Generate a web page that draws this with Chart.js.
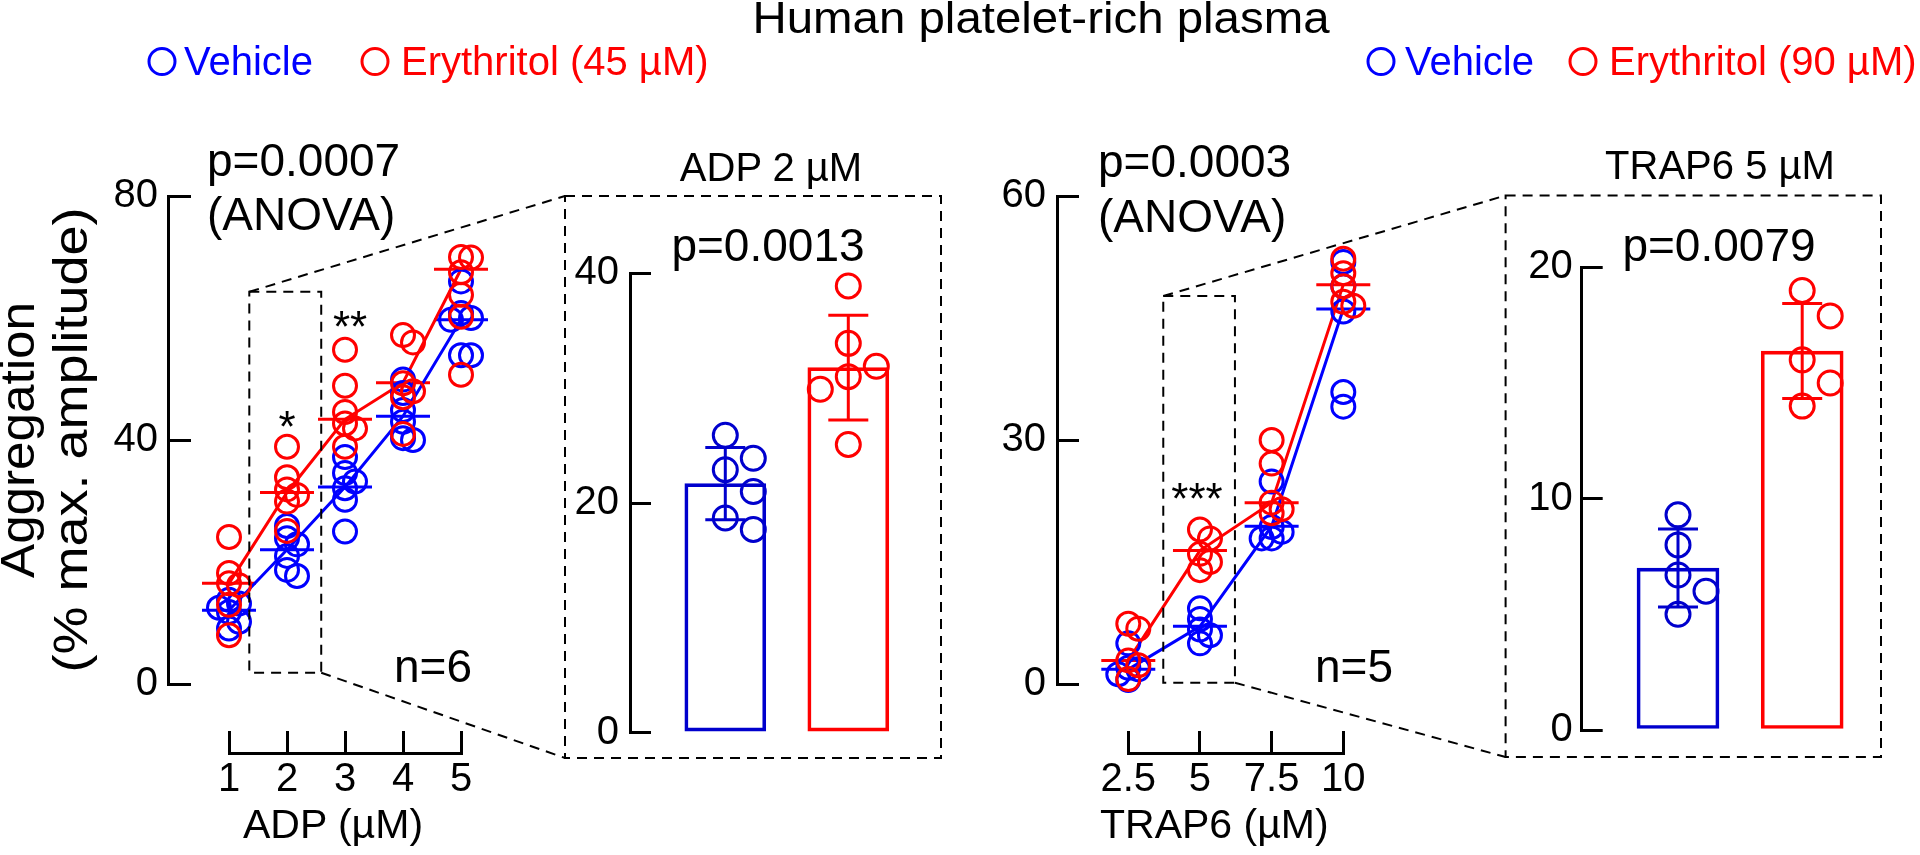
<!DOCTYPE html>
<html><head><meta charset="utf-8">
<script src="https://cdn.jsdelivr.net/npm/chart.js@4.4.1/dist/chart.umd.min.js"></script>
<style>
html,body{margin:0;padding:0;background:#fff;}
#wrap{position:relative;width:1920px;height:855px;overflow:hidden;background:#fff;}
canvas{position:absolute;left:0;top:0;}
svg{position:absolute;left:0;top:0;}
</style></head><body>
<div id="wrap">
<canvas id="c1" width="1920" height="855"></canvas>
<canvas id="c1x" width="1920" height="855"></canvas>
<canvas id="c2" width="1920" height="855"></canvas>
<canvas id="c3" width="1920" height="855"></canvas>
<canvas id="c3x" width="1920" height="855"></canvas>
<canvas id="c4" width="1920" height="855"></canvas>
<svg id="ov" width="1920" height="855" xmlns="http://www.w3.org/2000/svg"></svg>
</div>
<script>
// ---------------- DATA ----------------
const adpDoses = [1, 2, 3, 4, 5];
const adpVehicle2 = [25.9, 23.9, 22.9, 21.0, 18.7, 17.7];
const adpErythritol2 = [38.9, 33.9, 31.9, 31.0, 29.9, 25.1];
const adpVehiclePoints = [
  [13.8, 13.2, 12.5, 11.8, 10.2, 9.1],
  adpVehicle2,
  [37.2, 34.6, 33.2, 32.1, 30.2, 25.0],
  [49.9, 47.7, 44.9, 43.0, 40.3, 40.0],
  [66.0, 60.8, 60.0, 59.7, 53.9, 53.9]
];
const adpErythritolPoints = [
  [24.1, 18.2, 16.5, 16.2, 13.0, 8.0],
  adpErythritol2,
  [54.8, 48.9, 44.6, 42.7, 41.9, 38.9],
  [57.2, 56.0, 49.3, 48.0, 47.0, 41.0],
  [70.0, 69.9, 67.5, 63.8, 60.2, 50.7]
];
const adpVehicleMedian = [12.1, 22.0, 32.3, 43.9, 59.7];
const adpErythritolMedian = [16.5, 31.4, 43.4, 49.4, 68.0];

const trapDoses = [2.5, 5, 7.5, 10];
const trapVehicle5 = [9.3, 8.0, 6.7, 6.0, 5.0];
const trapErythritol5 = [19.0, 17.9, 16.0, 15.0, 14.0];
const trapVehiclePoints = [
  [5.0, 2.0, 1.8, 1.2, 0.5],
  trapVehicle5,
  [24.9, 19.3, 18.7, 17.9, 17.9],
  [51.9, 48.9, 45.8, 35.9, 34.1]
];
const trapErythritolPoints = [
  [7.4, 6.8, 2.9, 2.3, 0.6],
  trapErythritol5,
  [30.0, 27.1, 22.3, 21.5, 21.0],
  [52.3, 50.5, 48.9, 47.0, 46.5]
];
const trapVehicleMedian = [1.8, 7.1, 19.4, 46.1];
const trapErythritolMedian = [2.9, 16.4, 22.3, 49.1];

const adpYTicks = [0, 40, 80];
const trapYTicks = [0, 30, 60];
const adpBarYTicks = [0, 20, 40];
const trapBarYTicks = [0, 10, 20];
const adpXTickLabels = ['1', '2', '3', '4', '5'];
const trapXTickLabels = ['2.5', '5', '7.5', '10'];

// ---------------- STYLE / LAYOUT ----------------
const FONT = "'Liberation Sans', Arial, Helvetica, sans-serif";
const BLUE = '#0000FF', BLUE_BAR = '#0000CD', RED = '#FF0000';
const TICK_FONT = 40;
Chart.defaults.font.family = FONT;
Chart.defaults.color = '#000';
Chart.defaults.animation = false;

const P1 = {left:168, right:520, top:196, bottom:684};
const P1X = {left:229, right:461, top:700, bottom:753};
const P2 = {left:630, right:945, top:273.3, bottom:732.7};
const P3 = {left:1057, right:1420, top:196, bottom:684};
const P3X = {left:1128.3, right:1343.3, top:700, bottom:753};
const P4 = {left:1581.7, right:1885, top:267.3, bottom:730};
const YAXW = 100, XAXH = 100;

function xRange(area, v0, p0, v1, p1) {
  const k = (p1 - p0) / (v1 - v0);
  return {min: v0 - (p0 - area.left) / k, max: v0 + (area.right - p0) / k, k};
}
function pad(area, lw, bh) {
  return {left: area.left - lw, right: 1920 - area.right, top: area.top, bottom: 855 - area.bottom - bh};
}
function yAxis(min, max, ticks, tickLen, gap) {
  return {
    type:'linear', position:'left', min, max,
    afterFit: s => { s.width = YAXW; },
    afterBuildTicks: s => { s.ticks = ticks.map(v => ({value:v})); },
    border:{display:true, color:'#000', width:3},
    grid:{display:true, drawOnChartArea:false, drawTicks:true, tickLength:-tickLen, tickWidth:3, tickColor:'#000', color:'#000', lineWidth:3},
    ticks:{padding:tickLen + gap, color:'#000', font:{size:TICK_FONT}, autoSkip:false, callback: v => String(v)}
  };
}
function xAxisShown(min, max, values, labels, tickLen, pd) {
  return {
    type:'linear', position:'bottom', min, max,
    afterFit: s => { s.height = XAXH; },
    afterBuildTicks: s => { s.ticks = values.map(v => ({value:v})); },
    border:{display:true, color:'#000', width:3},
    grid:{display:true, drawOnChartArea:false, drawTicks:true, tickLength:-tickLen, tickWidth:3, tickColor:'#000', color:'#000', lineWidth:3},
    ticks:{padding:pd, color:'#000', font:{size:TICK_FONT}, autoSkip:false, maxRotation:0,
      callback: v => { const i = values.indexOf(v); return i >= 0 ? labels[i] : ''; }}
  };
}
const baseOpts = {responsive:false, animation:false, events:[], plugins:{legend:{display:false}, tooltip:{enabled:false}}};

// beeswarm in pixel space (values placed from the top down)
function swarm(vals, yk, step, minDist) {
  const order = vals.map((v, i) => i).sort((a, b) => vals[b] - vals[a]);
  const placed = [], off = new Array(vals.length);
  for (const i of order) {
    const y = -vals[i] * yk;
    for (let k = 0; k < 40; k++) {
      const cand = k === 0 ? 0 : (k % 2 ? 1 : -1) * Math.ceil(k / 2) * step;
      if (placed.every(p => Math.hypot(p.x - cand, p.y - y) >= minDist)) {
        placed.push({x:cand, y}); off[i] = cand; break;
      }
    }
  }
  return off;
}
function swarmPoints(centers, groupVals, xk, yk, step, minDist) {
  const pts = [];
  centers.forEach((c, i) => {
    const vals = groupVals[i];
    const off = swarm(vals, yk, step, minDist);
    vals.forEach((v, j) => pts.push({x: c + off[j] / xk, y: v}));
  });
  return pts;
}
function medianSegs(doses, meds, half) {
  const out = [];
  doses.forEach((d, i) => { out.push({x:d - half, y:meds[i]}, {x:d + half, y:meds[i]}, {x:d, y:null}); });
  return out;
}
const mean = a => a.reduce((s, v) => s + v, 0) / a.length;
const sd = a => { const m = mean(a); return Math.sqrt(a.reduce((s, v) => s + (v - m) ** 2, 0) / (a.length - 1)); };
function errSegs(c, vals, h) {
  const m = mean(vals), s = sd(vals);
  return [{x:c, y:m - s}, {x:c, y:m + s}, {x:c, y:null},
          {x:c - h, y:m + s}, {x:c + h, y:m + s}, {x:c, y:null},
          {x:c - h, y:m - s}, {x:c + h, y:m - s}];
}
function ptsDs(data, color, r) {
  return {type:'scatter', data, pointRadius:r, pointBorderWidth:3, pointBorderColor:color, borderColor:color,
          pointBackgroundColor:'rgba(0,0,0,0)', backgroundColor:'rgba(0,0,0,0)', order:0, clip:false};
}
function lineDs(data, color) {
  return {type:'line', data, borderColor:color, borderWidth:3, pointRadius:0, pointHitRadius:0, tension:0,
          fill:false, spanGaps:false, order:1, clip:false};
}
const LSTEP = 10, LDIST = 10;

// ---------------- PANEL 1: ADP dose-response ----------------
const r1 = xRange(P1, 1, 229, 5, 461);
const yk1 = (P1.bottom - P1.top) / 80;
const ch1 = new Chart(document.getElementById('c1'), {
  type:'scatter',
  data:{datasets:[
    ptsDs(swarmPoints(adpDoses, adpErythritolPoints, r1.k, yk1, LSTEP, LDIST), RED, 11.5),
    ptsDs(swarmPoints(adpDoses, adpVehiclePoints, r1.k, yk1, LSTEP, LDIST), BLUE, 11.5),
    lineDs(adpDoses.map((d, i) => ({x:d, y:adpErythritolMedian[i]})), RED),
    lineDs(adpDoses.map((d, i) => ({x:d, y:adpVehicleMedian[i]})), BLUE),
    lineDs(medianSegs(adpDoses, adpErythritolMedian, 27 / r1.k), RED),
    lineDs(medianSegs(adpDoses, adpVehicleMedian, 27 / r1.k), BLUE)
  ]},
  options:Object.assign({}, baseOpts, {
    layout:{padding:pad(P1, YAXW, 0)},
    scales:{x:{type:'linear', display:false, min:r1.min, max:r1.max}, y:yAxis(0, 80, adpYTicks, 23, 10)}
  })
});
const ch1x = new Chart(document.getElementById('c1x'), {
  type:'scatter', data:{datasets:[]},
  options:Object.assign({}, baseOpts, {
    layout:{padding:pad(P1X, 0, XAXH)},
    scales:{x:xAxisShown(1, 5, adpDoses, adpXTickLabels, 22, 25), y:{display:false, min:0, max:1}}
  })
});

// ---------------- PANEL 2: ADP 2 µM bars ----------------
const r2 = xRange(P2, 0, 725.3, 1, 848.3);
const yk2 = (P2.bottom - P2.top) / 40;
const ch2 = new Chart(document.getElementById('c2'), {
  type:'scatter',
  data:{datasets:[
    ptsDs(swarmPoints([0], [adpVehicle2], r2.k, yk2, 28, 26), BLUE_BAR, 12),
    ptsDs(swarmPoints([1], [adpErythritol2], r2.k, yk2, 28, 26), RED, 12),
    lineDs(errSegs(0, adpVehicle2, 20 / r2.k), BLUE_BAR),
    lineDs(errSegs(1, adpErythritol2, 20 / r2.k), RED),
    {type:'bar', data:[{x:0, y:mean(adpVehicle2)}, {x:1, y:mean(adpErythritol2)}],
     borderColor:[BLUE_BAR, RED], backgroundColor:'rgba(0,0,0,0)', borderWidth:3, borderSkipped:false,
     barThickness:81, order:2, clip:false}
  ]},
  options:Object.assign({}, baseOpts, {
    layout:{padding:pad(P2, YAXW, 0)},
    scales:{x:{type:'linear', display:false, min:r2.min, max:r2.max, offset:false}, y:yAxis(0, 40, adpBarYTicks, 21, 11)}
  })
});

// ---------------- PANEL 3: TRAP6 dose-response ----------------
const r3 = xRange(P3, 2.5, 1128.3, 10, 1343.3);
const yk3 = (P3.bottom - P3.top) / 60;
const ch3 = new Chart(document.getElementById('c3'), {
  type:'scatter',
  data:{datasets:[
    ptsDs(swarmPoints(trapDoses, trapErythritolPoints, r3.k, yk3, LSTEP, LDIST), RED, 11.5),
    ptsDs(swarmPoints(trapDoses, trapVehiclePoints, r3.k, yk3, LSTEP, LDIST), BLUE, 11.5),
    lineDs(trapDoses.map((d, i) => ({x:d, y:trapErythritolMedian[i]})), RED),
    lineDs(trapDoses.map((d, i) => ({x:d, y:trapVehicleMedian[i]})), BLUE),
    lineDs(medianSegs(trapDoses, trapErythritolMedian, 27 / r3.k), RED),
    lineDs(medianSegs(trapDoses, trapVehicleMedian, 27 / r3.k), BLUE)
  ]},
  options:Object.assign({}, baseOpts, {
    layout:{padding:pad(P3, YAXW, 0)},
    scales:{x:{type:'linear', display:false, min:r3.min, max:r3.max}, y:yAxis(0, 60, trapYTicks, 22, 11)}
  })
});
const ch3x = new Chart(document.getElementById('c3x'), {
  type:'scatter', data:{datasets:[]},
  options:Object.assign({}, baseOpts, {
    layout:{padding:pad(P3X, 0, XAXH)},
    scales:{x:xAxisShown(2.5, 10, trapDoses, trapXTickLabels, 22, 25), y:{display:false, min:0, max:1}}
  })
});

// ---------------- PANEL 4: TRAP6 5 µM bars ----------------
const r4 = xRange(P4, 0, 1678, 1, 1802.2);
const yk4 = (P4.bottom - P4.top) / 20;
const ch4 = new Chart(document.getElementById('c4'), {
  type:'scatter',
  data:{datasets:[
    ptsDs(swarmPoints([0], [trapVehicle5], r4.k, yk4, 28, 26), BLUE_BAR, 12),
    ptsDs(swarmPoints([1], [trapErythritol5], r4.k, yk4, 28, 26), RED, 12),
    lineDs(errSegs(0, trapVehicle5, 20 / r4.k), BLUE_BAR),
    lineDs(errSegs(1, trapErythritol5, 20 / r4.k), RED),
    {type:'bar', data:[{x:0, y:mean(trapVehicle5)}, {x:1, y:mean(trapErythritol5)}],
     borderColor:[BLUE_BAR, RED], backgroundColor:'rgba(0,0,0,0)', borderWidth:3, borderSkipped:false,
     barThickness:82, order:2, clip:false}
  ]},
  options:Object.assign({}, baseOpts, {
    layout:{padding:pad(P4, YAXW, 0)},
    scales:{x:{type:'linear', display:false, min:r4.min, max:r4.max, offset:false}, y:yAxis(0, 20, trapBarYTicks, 21, 9)}
  })
});

// ---------------- OVERLAY (text + zoom guides) ----------------
const NS = 'http://www.w3.org/2000/svg';
const svg = document.getElementById('ov');
function el(tag, attrs, text) {
  const e = document.createElementNS(NS, tag);
  for (const k in attrs) e.setAttribute(k, attrs[k]);
  if (text != null) e.textContent = text;
  svg.appendChild(e); return e;
}
function txt(x, y, s, size, o) {
  o = o || {};
  const a = {x, y, 'font-size':size, 'font-family':FONT, fill:o.fill || '#000', 'text-anchor':o.anchor || 'start'};
  if (o.len) { a.textLength = o.len; a.lengthAdjust = 'spacingAndGlyphs'; }
  if (o.transform) { a.transform = o.transform; a.x = 0; a.y = 0; }
  return el('text', a, s);
}
const DASH = {stroke:'#000', 'stroke-width':2, fill:'none', 'stroke-dasharray':'10 7'};

// title + legends
txt(1041, 33, 'Human platelet-rich plasma', 44, {anchor:'middle', len:577});
function legendItem(cx, tx, color, label) {
  el('circle', {cx, cy:61.5, r:13, fill:'none', stroke:color, 'stroke-width':3});
  txt(tx, 75, label, 40, {fill:color});
}
legendItem(162, 184, BLUE, 'Vehicle');
legendItem(375, 401, RED, 'Erythritol (45 µM)');
legendItem(1381, 1405, BLUE, 'Vehicle');
legendItem(1583, 1609, RED, 'Erythritol (90 µM)');

// y-axis title
txt(0, 0, 'Aggregation', 48, {anchor:'middle', transform:'translate(34,440) rotate(-90)', len:276});
txt(0, 0, '(% max. amplitude)', 48, {anchor:'middle', transform:'translate(87,440) rotate(-90)', len:465});

// x-axis titles
txt(243, 838, 'ADP (µM)', 41);
txt(1100, 838, 'TRAP6 (µM)', 41);

// statistics
txt(207, 176, 'p=0.0007', 46);
txt(207, 230, '(ANOVA)', 46);
txt(1098, 177, 'p=0.0003', 46);
txt(1098, 232, '(ANOVA)', 46);
txt(771, 181, 'ADP 2 µM', 40, {anchor:'middle'});
txt(768, 261, 'p=0.0013', 46, {anchor:'middle'});
txt(1720, 179, 'TRAP6 5 µM', 40, {anchor:'middle'});
txt(1719, 261, 'p=0.0079', 46, {anchor:'middle'});
txt(472, 682, 'n=6', 46, {anchor:'end'});
txt(1393, 682, 'n=5', 46, {anchor:'end'});
txt(287, 442, '*', 44, {anchor:'middle'});
txt(350, 342, '**', 44, {anchor:'middle'});
txt(1197, 514, '***', 44, {anchor:'middle'});

// zoom guides
const adpZoomBox = {x0:1.35, x1:2.59, y0:1.85, y1:64.3};
const trapZoomBox = {x0:3.72, x1:6.22, y0:0.16, y1:47.7};
const adpInset = {left:565, top:196, right:941, bottom:758};
const trapInset = {left:1505.6, top:195.5, right:1881, bottom:757};
function guides(chart, box, inset) {
  const X = v => chart.scales.x.getPixelForValue(v), Y = v => chart.scales.y.getPixelForValue(v);
  const l = X(box.x0), r = X(box.x1), t = Y(box.y1), b = Y(box.y0);
  el('rect', Object.assign({x:l, y:t, width:r - l, height:b - t}, DASH));
  el('rect', Object.assign({x:inset.left, y:inset.top, width:inset.right - inset.left, height:inset.bottom - inset.top}, DASH));
  el('path', Object.assign({d:`M${l},${t} L${inset.left},${inset.top} M${r},${b} L${inset.left},${inset.bottom}`}, DASH));
}
guides(ch1, adpZoomBox, adpInset);
guides(ch3, trapZoomBox, trapInset);
</script>
</body></html>
